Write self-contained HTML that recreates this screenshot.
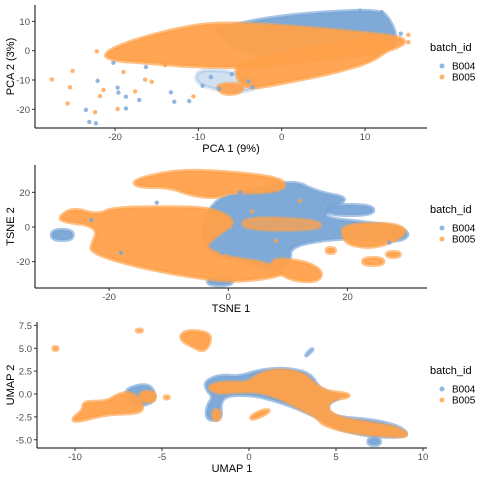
<!DOCTYPE html>
<html><head><meta charset="utf-8">
<style>
body{margin:0;background:#fff;}
svg{display:block;font-family:"Liberation Sans",sans-serif;}
.tk{font-size:9.5px;fill:#4d4d4d;}
.at{font-size:11px;fill:#000;}
.lg{font-size:10px;fill:#000;}
.lt{font-size:11px;fill:#000;}
</style></head>
<body>
<svg id="chart" width="480" height="480" xmlns="http://www.w3.org/2000/svg"></svg>
<script>
// ===== Data =====
const batches = ["B004","B005"];

// PCA cluster outlines (data units)
const pcaClX = [
 [-5.8,-1.0,5.4,11.8,13.0,13.8,13.0,6.2,-3.8,-8.6],
 [-9.8,-2.6,-2.9,-6.5,-10.6],
 [-21.4,-17.8,-10.6,-5.8,2.2,10.2,14.2,15.0,12.1,6.2,-1.8,-9.8,-15.8,-20.6],
 [-5.8,-4.6,0.2,6.2,11.4,13.8,10.2,2.2,-3.8],
 [-8,-6,-4.5,-5,-7]
];
const pcaClY = [
 [8.8,11.5,13.2,13.9,10.5,4.7,0.2,-3.2,-2.2,7.1],
 [-5.6,-9.0,-13.4,-14.4,-11.0],
 [-0.8,3.7,8.8,9.5,8.1,6.0,4.7,2.6,-0.8,-2.2,-5.6,-5.6,-4.2,-3.2],
 [-5.6,-13.4,-11.0,-7.6,-3.2,3.7,4.7,0.2,-3.2],
 [-12,-11,-12,-14.5,-15]
];
const pcaClB = [0,0,1,1,1];
const pcaClOp = [0.95,0.35,0.95,0.95,0.9];
const pcaPx = [-27.6,-25.7,-25.1,-25.4,-23.5,-23.1,-22.3,-22.4,-22.1,-21.8,-21.4,-19.7,-19.6,-19.7,-18.7,-18.7,-17.6,-17.1,-12.9,-11.1,-10.6,-13.3,-15.6,-16.4,-22.2,-19,-20.2,-16.3,-14,15.2,15.2,14.3,9.4,12.0,-8.5,-6,-4,-9.5,-7.5,-3.5];
const pcaPy = [-9.8,-18,-6.9,-12.5,-20.2,-24.3,-24.8,-21,-10.3,-15.5,-13.4,-12.6,-14.3,-19.9,-19.7,-15.7,-13.9,-16.8,-17.4,-17.2,-15.6,-14.2,-10.6,-9.9,-0.2,-7.3,-4.1,-5.6,-5,5.4,2.9,5.8,13.6,13.2,-9,-8,-10.5,-12,-13,-12.5];
const pcaPb = [1,1,1,1,0,0,0,1,0,1,1,0,0,1,0,0,1,0,0,0,1,0,1,1,1,1,0,0,1,1,1,0,0,0,0,0,0,0,0,0];
const pcaXTicks = [-20,-10,0,10];
const pcaYTicks = [10,0,-10,-20];

// TSNE cluster outlines
const tsClX = [
 [-1.9,3.1,10.9,14.9,20.4,17.1,15.9,22.6,28.8,30.5,28.3,19.9,10.4,10.4,7.0,3.1,-4.2,-4.2],
 [16.5,24.3,24.3,16.5],
 [-29.6,-26.1,-26.1,-29.6],
 [-3.4,0.6,0.6,-3.4],
 [-28.6,-26.1,-22.0,-19.3,-11.0,-2.6,1.5,-1.9,-4.2,0.3,5.8,9.8,7.0,0.3,-8.1,-16.5,-23.2,-22.7,-22.0,-23.2,-27.1],
 [-16.0,-8.6,0.3,8.7,9.8,5.8,0.3,-1.9,-6.4,-9.8,-15.3],
 [2.5,15.4,15.4,2.5],
 [19.2,27.1,30.1,28.3,24.3,20.4,19.2],
 [7.5,13.2,15.9,14.9,10.4,7.5],
 [22.6,26,26,22.6],
 [16.5,17.9,17.9,16.5],
 [26.6,28.8,28.8,26.6]
];
const tsClY = [
 [16.7,20.2,27.1,20.2,16.7,11.0,5.2,2.9,0,-4.6,-8.7,-5.8,-10.4,-20.2,-26.0,-20.2,-14.4,2.9],
 [12.7,12.7,6.9,6.9],
 [-1.7,-1.7,-7.5,-7.5],
 [-29.4,-29.4,-33.5,-33.5],
 [5.2,11.0,6.9,11.0,11.5,11.0,2.9,-4.6,-12.1,-17.9,-20.2,-26.0,-29.4,-31.7,-27.7,-21.9,-14.4,-8.7,-2.9,1.2,2.9],
 [27.1,32.9,31.7,28.3,22.5,19.6,20.2,16.7,18.5,23.1,23.1],
 [5.8,4.0,-1.7,-1.7],
 [1.2,2.3,-1.7,-7.5,-12.1,-10.4,-5.8],
 [-17.9,-20.2,-26.0,-31.7,-30.6,-23.7],
 [-17.9,-17.9,-21.9,-21.9],
 [-12.1,-12.1,-15,-15],
 [-14.4,-14.4,-17.3,-17.3]
];
const tsClB = [0,0,0,0,1,1,1,1,1,1,1,1];
const tsClOp = [0.95,0.95,0.95,0.95,0.95,0.95,0.75,0.95,0.95,0.9,0.9,0.9];
const tsPx = [-23,-18,4,2,16,14,-1,12,27,8,-12];
const tsPy = [4,-15,9,20,15,-8,-15,15,-9,-8,14];
const tsPb = [0,0,1,0,0,0,0,1,0,1,0];
const tsXTicks = [-20,0,20];
const tsYTicks = [20,0,-20];

// UMAP cluster outlines
const umClX = [
 [-7.03,-5.69,-5.30,-6.26,-7.03],
 [-2.53,-1.67,-0.52,0.63,2.17,3.51,4.08,5.42,4.47,4.66,7.14,8.68,9.25,7.14,5.23,3.89,2.55,1.40,0.25,-1.28,-1.67,-1.57,-2.43,-2.43,-2.05,-2.43],
 [3.22,3.5,3.7,3.45],
 [6.86,7.53,7.53,6.86],
 [-10.19,-9.52,-9.52,-8.18,-7.60,-6.84,-6.26,-6.07,-6.65,-8.18,-9.90],
 [-6.26,-5.4,-5.4,-6.26],
 [-3.97,-3.39,-2.24,-2.24,-2.63,-3.20,-3.78],
 [-2.24,-1.28,-0.13,0.63,1.78,3.12,3.70,4.47,5.61,5.80,4.66,4.47,5.23,7.14,8.68,9.25,7.14,5.61,4.27,3.89,2.55,1.78,0.63,-0.52,-1.67,-2.24],
 [0.1,0.6,1.15,1.1,0.5,0.15],
 [-2.07,-1.67,-1.67,-2.07],
 [-11.25,-11.0,-11.0,-11.25],
 [-6.45,-6.15,-6.15,-6.45],
 [-4.85,-4.6,-4.6,-4.85]
];
const umClY = [
 [0.62,1.16,-0.66,-1.39,-0.30],
 [1.35,2.08,1.89,2.62,2.81,2.26,0.44,-0.30,-1.02,-2.48,-2.84,-3.57,-4.67,-4.67,-3.93,-2.48,-1.39,-0.66,-0.11,-0.11,-1.02,-2.84,-2.84,-1.39,-0.30,0.44],
 [4.08,4.5,4.99,4.7],
 [-4.84,-4.84,-5.57,-5.57],
 [-2.77,-1.75,-0.84,-0.84,-0.11,0.25,-0.66,-1.75,-2.11,-2.19,-3.03],
 [0.25,0.25,-0.84,-0.84],
 [6.45,6.99,6.63,5.54,4.62,5.17,5.72],
 [0.98,1.35,1.17,2.26,2.70,2.26,1.17,0.25,0.07,-0.30,-0.66,-1.75,-2.66,-3.20,-3.75,-4.73,-4.48,-4.12,-3.39,-2.48,-1.20,-0.47,0.25,0.25,0.07,0.44],
 [-2.5,-1.9,-1.7,-2.0,-2.6,-2.75],
 [-1.75,-1.75,-2.84,-2.84],
 [5.15,5.15,4.8,4.8],
 [7.05,7.05,6.8,6.8],
 [-0.25,-0.25,-0.5,-0.5]
];
const umClB = [0,0,0,0,1,1,1,1,1,1,1,1,1];
const umClOp = [0.95,0.95,0.95,0.95,0.95,0.95,0.95,0.95,0.95,0.9,0.9,0.9,0.9];
const umXTicks = [-10,-5,0,5,10];
const umYTicks = [7.5,5,2.5,0,-2.5,-5];
const umYLabels = ["7.5","5.0","2.5","0.0","-2.5","-5.0"];

// ===== Rendering =====
const NS="http://www.w3.org/2000/svg";
const svg=document.getElementById('chart');
const colors=["#78a5d6","#ffa04a"];
function mk(tag,attrs,parent){const e=document.createElementNS(NS,tag);for(const k in attrs)e.setAttribute(k,attrs[k]);(parent||svg).appendChild(e);return e;}
function chaikin(p,n){for(let it=0;it<n;it++){const q=[];for(let i=0;i<p.length;i++){const a=p[i],b=p[(i+1)%p.length];
  q.push([0.75*a[0]+0.25*b[0],0.75*a[1]+0.25*b[1]]);q.push([0.25*a[0]+0.75*b[0],0.25*a[1]+0.75*b[1]]);}p=q;}return p;}

function panel(cfg){
  const g=mk('g',{});
  
  
  const sx=v=>cfg.x0+(v-cfg.xa)*cfg.xs;
  const sy=v=>cfg.y0-(v-cfg.ya)*cfg.ys;
  const pts=mk('g',{},g);
  
  
  for(let i=0;i<cfg.cx.length;i++){
    let poly=cfg.cx[i].map((x,k)=>[sx(x),sy(cfg.cy[i][k])]);
    poly=chaikin(poly,2);
    let d='';poly.forEach((q,k)=>{d+=(k?'L':'M')+q[0].toFixed(1)+','+q[1].toFixed(1);});
    const c=colors[cfg.b[i]];
    const p=mk('path',{d:d+'Z',fill:c,'fill-opacity':cfg.op[i],stroke:c,'stroke-width':4,'stroke-opacity':0.7*cfg.op[i],'stroke-linejoin':'round'},pts);
    
    
  }
  for(let i=0;i<cfg.px.length;i++){
    const c=mk('circle',{cx:sx(cfg.px[i]),cy:sy(cfg.py[i]),r:2.2,fill:colors[cfg.pb[i]],'fill-opacity':0.8},pts);
    
    
  }
  const ax=mk('line',{x1:cfg.left,x2:cfg.right,y1:cfg.bottom,y2:cfg.bottom,stroke:'#000','stroke-width':1},g);
  
  const ay=mk('line',{x1:cfg.left,x2:cfg.left,y1:cfg.top,y2:cfg.bottom,stroke:'#000','stroke-width':1},g);
  
  cfg.xt.forEach(v=>{const x=sx(v);mk('line',{x1:x,x2:x,y1:cfg.bottom,y2:cfg.bottom+3,stroke:'#333'},g);
    const t=mk('text',{x:x,y:cfg.bottom+12,'text-anchor':'middle',class:'tk'},g);t.textContent=v;
    });
  cfg.yt.forEach((v,i)=>{const y=sy(v);mk('line',{x1:cfg.left-3,x2:cfg.left,y1:y,y2:y,stroke:'#333'},g);
    const t=mk('text',{x:cfg.left-5,y:y+3.5,'text-anchor':'end',class:'tk'},g);t.textContent=cfg.yl?cfg.yl[i]:v;
    });
  const xt=mk('text',{x:(cfg.left+cfg.right)/2,y:cfg.bottom+24,'text-anchor':'middle',class:'at'},g);xt.textContent=cfg.xlab;
  
  const cy=(cfg.top+cfg.bottom)/2;
  const yt=mk('text',{x:14,y:cy,'text-anchor':'middle',class:'at',transform:'rotate(-90 14 '+cy+')'},g);yt.textContent=cfg.ylab;
  
  const lg=mk('g',{},g);
  const lt=mk('text',{x:430,y:cfg.leg+3,class:'lt'},lg);lt.textContent='batch_id';
  
  batches.forEach((b,i)=>{const y=cfg.leg+18+i*11;
    const e=mk('g',{},lg);
    mk('circle',{cx:442,cy:y,r:2.5,fill:colors[i],'fill-opacity':0.8},e);
    const t=mk('text',{x:452,y:y+3.5,class:'lg'},e);t.textContent=b;});
}

panel({name:'pca-panel',cx:pcaClX,cy:pcaClY,b:pcaClB,op:pcaClOp,px:pcaPx,py:pcaPy,pb:pcaPb,
  xa:0,x0:281.7,xs:8.33,ya:0,y0:50.7,ys:2.93,left:35,right:427,top:5,bottom:128,xt:pcaXTicks,yt:pcaYTicks,
  xlab:'PCA 1 (9%)',ylab:'PCA 2 (3%)',leg:48});
panel({name:'tsne-panel',cx:tsClX,cy:tsClY,b:tsClB,op:tsClOp,px:tsPx,py:tsPy,pb:tsPb,
  xa:0,x0:228.3,xs:5.96,ya:0,y0:227,ys:1.733,left:35,right:427,top:165,bottom:288,xt:tsXTicks,yt:tsYTicks,
  xlab:'TSNE 1',ylab:'TSNE 2',leg:210});
panel({name:'umap-panel',cx:umClX,cy:umClY,b:umClB,op:umClOp,px:[],py:[],pb:[],
  xa:0,x0:249,xs:17.4,ya:0,y0:394,ys:9.15,left:37,right:427,top:322,bottom:448,xt:umXTicks,yt:umYTicks,yl:umYLabels,
  xlab:'UMAP 1',ylab:'UMAP 2',leg:371});
</script>
</body></html>
